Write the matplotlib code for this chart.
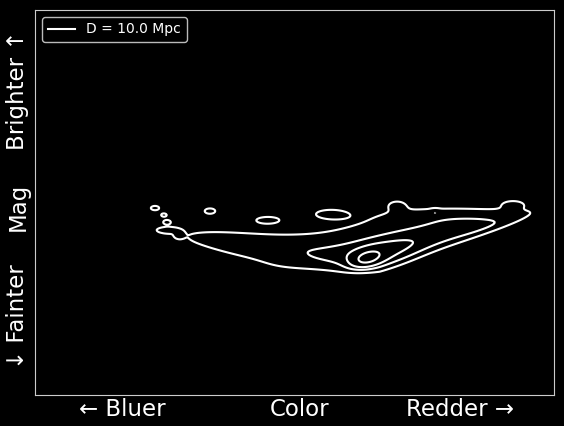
import numpy as np
import matplotlib
matplotlib.use("Agg")
import matplotlib.pyplot as plt

# density blobs (x = colour, y = magnitude, screen-like units)
blob_x = [367, 384, 408, 264, 468, 345, 432, 155, 210, 268, 330, 397, 435, 513, 164, 167, 168, 179]
blob_y = [259, 255, 242, 246, 223, 236, 215, 208, 211, 220, 214, 205, 212, 204, 215, 222, 230, 235]
blob_sx = [12, 30, 76, 74, 62, 60, 45, 5.5, 7, 14, 17, 8, 3, 10, 3.5, 3.5, 8, 3]
blob_sy = [6, 10, 9, 10, 9, 9, 6, 2.8, 3.5, 4, 5, 4, 2, 3.5, 2, 2, 2.2, 2.2]
blob_ang = [-15, -12, -9.5, 7, -2, -8, 0, 0, 0, 0, 0, 0, 0, 0, 0, 0, 0, 0]
blob_amp = [5, 3, 3, 1.7, 1.5, 1.0, 1.0, 1.3, 1.3, 1.3, 1.3, 1.3, 1.15, 1.2, 1.2, 1.2, 1.2, 1.15]

# completeness limits: faint edge and the slanted red/faint edge
faint_limit = 274
slant_x = [377, 520]
slant_y = [275, 220]

levels = [1.0, 2.8, 4.7, 8.0]

xticks = [122, 300, 460]
xlabels = ["\u2190 Bluer", "Color", "Redder \u2192"]
yticks = [90, 207, 317]
ylabels = ["Brighter \u2191", "Mag", "\u2193 Fainter"]

xx, yy = np.meshgrid(np.linspace(35, 554, 520), np.linspace(10, 395, 386))
dens = np.zeros_like(xx)
for x0, y0, sx, sy, a, amp in zip(blob_x, blob_y, blob_sx, blob_sy, blob_ang, blob_amp):
    t = np.deg2rad(a)
    dx, dy = xx - x0, yy - y0
    u = dx * np.cos(t) + dy * np.sin(t)
    v = -dx * np.sin(t) + dy * np.cos(t)
    dens += amp * np.exp(-0.5 * ((u / sx) ** 2 + (v / sy) ** 2))

slope = (slant_y[1] - slant_y[0]) / (slant_x[1] - slant_x[0])
yline = np.minimum(faint_limit, slant_y[0] + slope * (xx - slant_x[0]))
dens *= 1 / (1 + np.exp((yy - yline) / 2.0))

fig = plt.figure(figsize=(5.64, 4.26), dpi=100, facecolor="black")
ax = fig.add_axes([35 / 564, 31 / 426, 519 / 564, 385 / 426], facecolor="black")

ax.contour(xx, yy, dens, levels=levels, colors="white", linewidths=1.5)
ax.plot([], [], color="white", lw=1.5, label="D = 10.0 Mpc")

ax.set_xlim(35, 554)
ax.set_ylim(395, 10)
ax.set_xticks(xticks)
ax.set_xticklabels(xlabels)
ax.set_yticks(yticks)
ax.set_yticklabels(ylabels, rotation=90, va="center")
ax.tick_params(axis="x", length=0, labelsize=16.5, colors="white", pad=2.5)
ax.tick_params(axis="y", length=0, labelsize=16.5, colors="white", pad=4)
for s in ax.spines.values():
    s.set_color("#cccccc")

leg = ax.legend(loc="upper left", fontsize=10, facecolor="black",
                edgecolor="#bbbbbb", labelcolor="white", framealpha=1)

fig.savefig("out.png", facecolor="black")
